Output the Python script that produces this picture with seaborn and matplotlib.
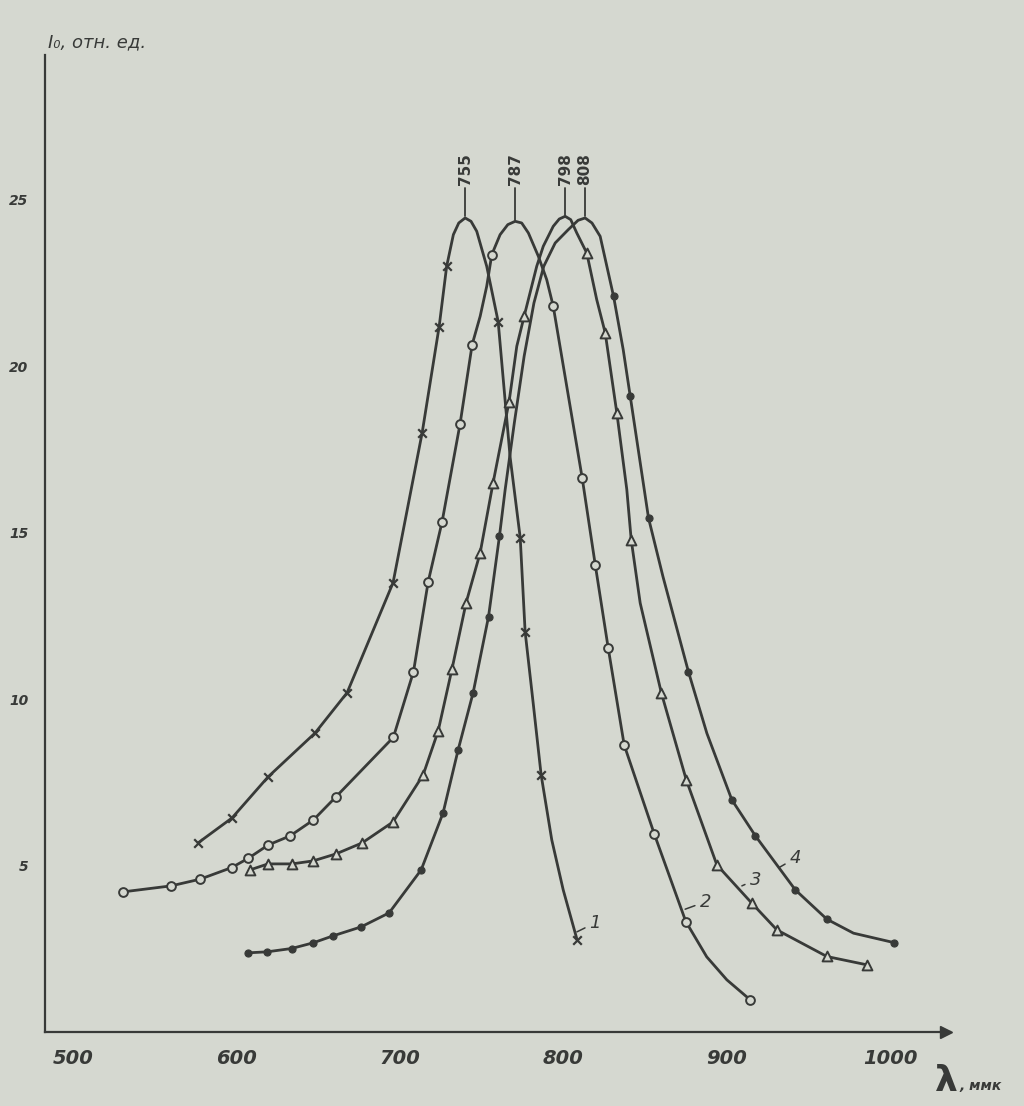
import numpy as np
import pandas as pd
import matplotlib
matplotlib.use("Agg")
import matplotlib.pyplot as plt
from matplotlib import font_manager
import seaborn as sns

# ---------------- data ----------------
# curve 1 (crosses)
lam1_pts = [576.5, 597.3, 619.3, 648.1, 667.7, 695.8, 713.6, 724.0, 728.6, 760.1, 773.6, 776.6, 786.4, 808.4]
I1_pts   = [5.69, 6.44, 7.67, 8.99, 10.2, 13.5, 18.0, 21.19, 23.0, 21.34, 14.85, 12.03, 7.73, 2.78]
lam1_trace = [732.7, 736.0, 739.9, 743.5, 747.0, 753.1, 767.4, 781.5, 792.9, 799.9]
I1_trace   = [23.95, 24.3, 24.45, 24.35, 24.05, 23.0, 17.28, 9.9, 5.78, 4.28]

# curve 2 (open circles)
lam2_pts = [530.6, 560.0, 577.7, 597.1, 607.3, 619.5, 632.8, 647.1, 661.0, 696.0, 708.3, 717.3, 725.8,
            736.8, 744.2, 756.2, 793.8, 811.5, 819.5, 827.4, 837.2, 855.6, 874.9, 914.3]
I2_pts   = [4.22, 4.40, 4.60, 4.95, 5.23, 5.63, 5.90, 6.38, 7.08, 8.86, 10.83, 13.53, 15.33,
            18.27, 20.65, 23.35, 21.8, 16.65, 14.04, 11.55, 8.63, 5.96, 3.33, 0.98]
lam2_trace = [749.1, 753.1, 761.3, 766.0, 770.5, 774.5, 778.6, 784.7, 789.8, 887.7, 900.0]
I2_trace   = [21.5, 22.4, 23.95, 24.25, 24.35, 24.3, 24.0, 23.3, 22.6, 2.27, 1.58]

# curve 3 (open triangles)
lam3_pts = [608.3, 619.3, 634.0, 646.9, 660.9, 676.9, 695.8, 714.2, 723.4, 731.9, 740.5, 749.1, 757.0,
            766.8, 776.0, 814.3, 825.6, 832.7, 841.5, 859.9, 875.2, 893.9, 915.3, 930.6, 961.2, 985.7]
I3_pts   = [4.88, 5.06, 5.06, 5.15, 5.36, 5.69, 6.32, 7.73, 9.05, 10.92, 12.9, 14.4, 16.5,
            18.94, 21.5, 23.4, 21.0, 18.6, 14.79, 10.2, 7.58, 5.03, 3.88, 3.08, 2.28, 2.03]
lam3_trace = [771.5, 783.7, 787.7, 793.8, 797.5, 801.1, 804.5, 808.2, 820.4, 838.8, 847.0]
I3_trace   = [20.6, 23.0, 23.6, 24.2, 24.42, 24.5, 24.4, 24.0, 22.0, 16.3, 12.89]

# curve 4 (filled dots)
lam4_pts = [607.1, 618.7, 633.7, 646.9, 659.1, 676.3, 693.4, 713.0, 726.4, 735.6, 744.8, 754.2, 760.9,
            830.7, 840.9, 852.1, 876.5, 903.1, 917.5, 941.9, 961.2, 1002.0]
I4_pts   = [2.39, 2.42, 2.52, 2.69, 2.90, 3.17, 3.59, 4.88, 6.59, 8.48, 10.2, 12.48, 14.9,
            22.1, 19.1, 15.44, 10.83, 6.98, 5.9, 4.28, 3.40, 2.70]
lam4_trace = [764.4, 770.0, 776.0, 782.0, 788.0, 795.0, 803.0, 809.0, 813.3, 817.5, 822.5, 836.6, 860.9,
              887.8, 977.5]
I4_trace   = [16.3, 18.3, 20.3, 21.9, 23.0, 23.7, 24.1, 24.38, 24.45, 24.3, 23.9, 20.5, 13.69,
              8.98, 2.98]

peak_labels = ["755", "787", "798", "808"]
curve_names = ["1", "2", "3", "4"]

x_ticks = [500, 600, 700, 800, 900, 1000]
y_ticks = [5, 10, 15, 20, 25]

# ---------------- style ----------------
BG = "#d5d8d0"
INK = "#383a38"

sns.set_style("white", {"axes.facecolor": BG, "figure.facecolor": BG})
names = {f.name for f in font_manager.fontManager.ttflist}
NARROW = "Liberation Sans Narrow" if "Liberation Sans Narrow" in names else "DejaVu Sans"
plt.rcParams["font.family"] = ["DejaVu Sans"]

fig = plt.figure(figsize=(10.24, 11.06), dpi=100)
fig.patch.set_facecolor(BG)
ax = fig.add_axes([0.044, 0.0665, 0.884, 0.884])
ax.set_facecolor(BG)

curves = [
    (lam1_pts, I1_pts, lam1_trace, I1_trace, "x"),
    (lam2_pts, I2_pts, lam2_trace, I2_trace, "o_open"),
    (lam3_pts, I3_pts, lam3_trace, I3_trace, "^_open"),
    (lam4_pts, I4_pts, lam4_trace, I4_trace, "o_fill"),
]

peaks = []
for k, (lp, ip, lt, it, mk) in enumerate(curves):
    line = pd.DataFrame({"lam": list(lp) + list(lt), "I": list(ip) + list(it)}).sort_values("lam")
    sns.lineplot(data=line, x="lam", y="I", estimator=None, sort=True, color=INK,
                 linewidth=2.0, ax=ax, zorder=2)
    pts = pd.DataFrame({"lam": lp, "I": ip})
    if mk == "x":
        sns.scatterplot(data=pts, x="lam", y="I", marker="x", s=38, color=INK,
                        linewidth=1.6, ax=ax, zorder=3)
    elif mk == "o_open":
        sns.scatterplot(data=pts, x="lam", y="I", marker="o", s=40, color=BG,
                        edgecolor=INK, linewidth=1.4, ax=ax, zorder=3)
    elif mk == "^_open":
        sns.scatterplot(data=pts, x="lam", y="I", marker="^", s=50, color=BG,
                        edgecolor=INK, linewidth=1.4, ax=ax, zorder=3)
    else:
        sns.scatterplot(data=pts, x="lam", y="I", marker="o", s=26, color=INK,
                        edgecolor=INK, linewidth=0.8, ax=ax, zorder=3)
    i = int(np.argmax(line["I"].values))
    peaks.append((line["lam"].values[i], line["I"].values[i]))

# peak leaders and labels
for (lx, ly), lab in zip(peaks, peak_labels):
    ax.plot([lx, lx], [ly + 0.05, 25.35], color=INK, lw=1.3, zorder=2)
    ax.text(lx, 25.45, lab, rotation=90, ha="center", va="bottom", fontsize=11,
            fontweight="bold", color=INK, family=NARROW)

# curve numbers
num_text_pos = [(819.5, 3.29), (886.8, 3.92), (917.4, 4.58), (941.9, 5.23)]
num_dash_end = [(808.3, 3.02), (874.5, 3.70), (909.2, 4.40), (932.3, 4.96)]
for name, tp, de in zip(curve_names, num_text_pos, num_dash_end):
    ax.annotate(name, xy=de, xytext=tp, ha="center", va="center", fontsize=13,
                style="italic", color=INK,
                arrowprops=dict(arrowstyle="-", color=INK, lw=1.1, shrinkA=1, shrinkB=0))

# axes
ax.set_xlim(482.9, 1036.7)
ax.set_ylim(0, 29.35)
ax.set_xticks(x_ticks)
ax.set_yticks(y_ticks)
ax.set_xticklabels([str(v) for v in x_ticks], fontsize=14, fontweight="bold",
                   style="italic", color=INK, family=NARROW)
ax.set_yticklabels([str(v) for v in y_ticks], fontsize=10, fontweight="bold",
                   style="italic", color=INK, family=NARROW)
ax.tick_params(axis="x", direction="in", length=4, width=1.2, colors=INK, pad=12, labelcolor=INK)
ax.tick_params(axis="y", direction="out", length=4, width=1.2, colors=INK, pad=8, labelcolor=INK)
ax.set_xlabel("")
ax.set_ylabel("")
for s in ["top", "right"]:
    ax.spines[s].set_visible(False)
for s in ["left", "bottom"]:
    ax.spines[s].set_color(INK)
    ax.spines[s].set_linewidth(1.6)
ax.plot([0.995], [0.0], marker=">", ms=8, color=INK, transform=ax.transAxes, clip_on=False, zorder=5)

# axis titles
fig.text(0.047, 0.962, "I₀, отн. ед.", fontsize=13, style="italic", color=INK, ha="left", va="center")
fig.text(0.913, 0.023, "λ", fontsize=26, color=INK, ha="left", va="center", fontweight="bold")
fig.text(0.937, 0.018, ", ммк", fontsize=10, style="italic", fontweight="bold", color=INK,
         ha="left", va="center")

fig.savefig("out.png", dpi=100, facecolor=BG)
